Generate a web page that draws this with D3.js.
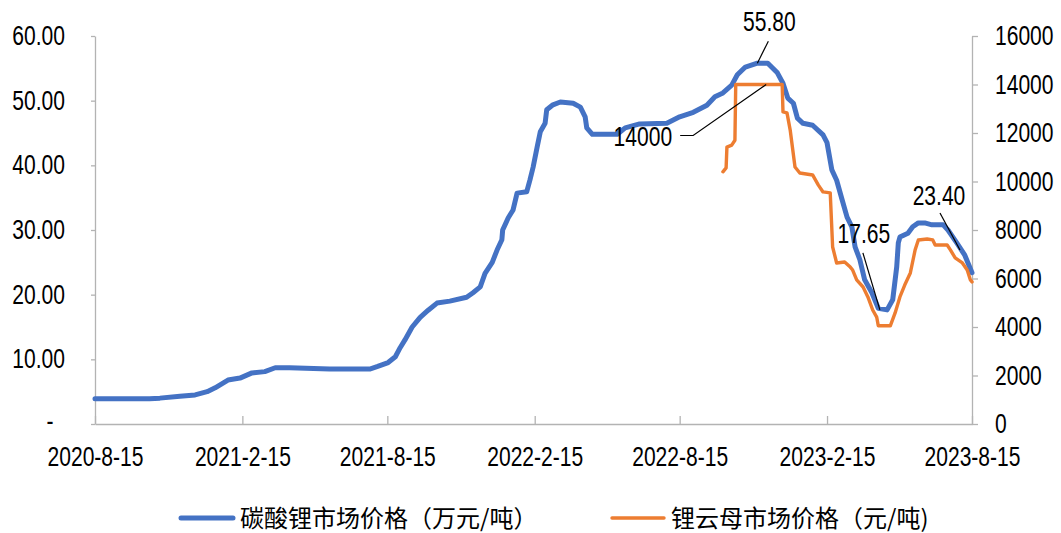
<!DOCTYPE html>
<html lang="zh">
<head>
<meta charset="UTF-8">
<title>碳酸锂与锂云母市场价格</title>
<script src="https://d3js.org/d3.v7.min.js"></script>
<style>
    body { margin: 0; background: #fff; }
    text { font-family: "Liberation Sans", Arial, sans-serif; fill: #000; }
    .cjk { font-family: "Noto Sans CJK SC", "Liberation Sans", sans-serif; }
</style>
</head>
<body>
<div id="chart"></div>
<script>
    // 碳酸锂市场价格（万元/吨）
    const blueDates = [
        "2020-08-15", "2020-10-22", "2020-11-04", "2020-11-29", "2020-12-18", "2021-01-02", "2021-01-12",
        "2021-01-28", "2021-02-12", "2021-02-27", "2021-03-15", "2021-03-28", "2021-04-15", "2021-06-04",
        "2021-07-24", "2021-08-03", "2021-08-16", "2021-08-25", "2021-08-31", "2021-09-06", "2021-09-15",
        "2021-09-25", "2021-10-05", "2021-10-16", "2021-11-01", "2021-11-22", "2021-11-30", "2021-12-09",
        "2021-12-15", "2021-12-24", "2021-12-30", "2022-01-05", "2022-01-06", "2022-01-13", "2022-01-19",
        "2022-01-24", "2022-02-05", "2022-02-09", "2022-02-13", "2022-02-18", "2022-02-22", "2022-02-28",
        "2022-03-02", "2022-03-09", "2022-03-19", "2022-04-04", "2022-04-13", "2022-04-19", "2022-04-21",
        "2022-04-28", "2022-05-29", "2022-06-08", "2022-06-26", "2022-07-30", "2022-08-15", "2022-09-01",
        "2022-09-18", "2022-09-28", "2022-10-08", "2022-10-19", "2022-10-26", "2022-11-05", "2022-11-20",
        "2022-12-03", "2022-12-15", "2022-12-22", "2022-12-28", "2023-01-04", "2023-01-09", "2023-01-16",
        "2023-01-28", "2023-02-10", "2023-02-15", "2023-02-21", "2023-02-27", "2023-03-06", "2023-03-12",
        "2023-03-18", "2023-03-22", "2023-03-28", "2023-04-03", "2023-04-12", "2023-04-20", "2023-05-01",
        "2023-05-08", "2023-05-13", "2023-05-15", "2023-05-17", "2023-05-27", "2023-06-02", "2023-06-09",
        "2023-06-17", "2023-06-26", "2023-07-10", "2023-07-16", "2023-07-27", "2023-08-06", "2023-08-15"
    ];
    const blueValues = [
        3.9, 3.9, 4.0, 4.3, 4.5, 5.0, 5.6,
        6.8, 7.1, 7.9, 8.1, 8.7, 8.7, 8.5,
        8.5, 8.9, 9.5, 10.4, 11.8, 13.0, 15.0,
        16.5, 17.6, 18.7, 19.0, 19.6, 20.3, 21.2,
        23.3, 25.0, 26.9, 28.5, 30.0, 31.9, 33.1,
        35.7, 35.9, 37.7, 39.7, 42.8, 45.2, 46.5,
        48.6, 49.3, 49.8, 49.6, 49.0, 47.5, 45.8,
        44.8, 44.8, 45.8, 46.4, 46.5, 47.5, 48.2,
        49.3, 50.6, 51.2, 52.4, 54.0, 55.2, 55.8,
        55.8, 54.3, 52.7, 50.4, 49.6, 47.3, 46.5,
        46.2, 44.7, 43.5, 39.3, 37.7, 34.6, 32.0,
        30.5, 27.4, 25.4, 22.3, 20.3, 17.9, 17.65,
        19.2, 24.3, 28.0, 28.9, 29.5, 30.5, 31.1,
        31.1, 30.8, 30.8, 30.0, 28.0, 26.1, 23.4
    ];

    // 锂云母市场价格（元/吨）
    const orangeDates = [
        "2022-10-08", "2022-10-12", "2022-10-13", "2022-10-19", "2022-10-23", "2022-10-24", "2022-12-21",
        "2022-12-22", "2022-12-27", "2022-12-31", "2023-01-06", "2023-01-12", "2023-01-28", "2023-02-04",
        "2023-02-10", "2023-02-19", "2023-02-22", "2023-02-27", "2023-03-09", "2023-03-16", "2023-03-19",
        "2023-03-24", "2023-04-01", "2023-04-07", "2023-04-13", "2023-04-18", "2023-04-20", "2023-05-05",
        "2023-05-11", "2023-05-17", "2023-05-23", "2023-05-30", "2023-06-05", "2023-06-09", "2023-06-20",
        "2023-06-27", "2023-06-30", "2023-07-15", "2023-07-19", "2023-07-25", "2023-08-03", "2023-08-09",
        "2023-08-13", "2023-08-15"
    ];
    const orangeValues = [
        10400, 10560, 11420, 11500, 11700, 14000, 14000,
        12870, 12830, 12120, 10600, 10350, 10270, 9860,
        9570, 9530, 7300, 6640, 6680, 6470, 6350,
        5940, 5650, 5240, 4700, 4410, 4050, 4050,
        4580, 5240, 5730, 6230, 7180, 7590, 7630,
        7590, 7380, 7380, 7180, 6850, 6640, 6350,
        5940, 5860
    ];

    const xTickDates = ["2020-08-15", "2021-02-15", "2021-08-15", "2022-02-15", "2022-08-15", "2023-02-15", "2023-08-15"];
    const xTickLabels = ["2020-8-15", "2021-2-15", "2021-8-15", "2022-2-15", "2022-8-15", "2023-2-15", "2023-8-15"];
    const leftTicks = [0, 10, 20, 30, 40, 50, 60];
    const rightTicks = [0, 2000, 4000, 6000, 8000, 10000, 12000, 14000, 16000];
    const seriesNames = ["碳酸锂市场价格（万元/吨）", "锂云母市场价格（元/吨)"];
    const seriesColors = ["#4472C4", "#ED7D31"];

    // annotations: [date, value, axis, label]
    const notes = [
        ["2022-11-20", 55.8, "left", "55.80"],
        ["2022-12-01", 14000, "right", "14000"],
        ["2023-04-22", 17.65, "left", "17.65"],
        ["2023-07-31", 26.9, "left", "23.40"]
    ];

    const W = 1061, H = 533;
    const plot = { left: 95, right: 972, top: 36, bottom: 424 };
    const SX = 0.78; // labels in the picture are horizontally squeezed
    const parse = d3.timeParse("%Y-%m-%d");

    const svg = d3.select("#chart").append("svg")
        .attr("width", W)
        .attr("height", H);

    const x = d3.scaleTime()
        .domain([parse(xTickDates[0]), parse(xTickDates[xTickDates.length - 1])])
        .range([plot.left, plot.right]);
    const yL = d3.scaleLinear().domain([0, 60]).range([plot.bottom, plot.top]);
    const yR = d3.scaleLinear().domain([0, 16000]).range([plot.bottom, plot.top]);

    function squeeze(sel, k) {
        sel.each(function () {
            const t = d3.select(this);
            const tx = +t.attr("x") || 0;
            t.attr("x", tx / k).attr("transform", `scale(${k},1)`);
        });
    }

    function styleAxis(g) {
        g.select(".domain").attr("stroke", "#b3b3b3").attr("stroke-width", 1.3);
        g.selectAll(".tick line").attr("stroke", "#b3b3b3").attr("stroke-width", 1.3);
        g.selectAll("text").attr("font-size", 27).attr("font-family", null).attr("fill", "#000");
    }

    // left axis
    const gL = svg.append("g")
        .attr("transform", `translate(${plot.left},0)`)
        .call(d3.axisLeft(yL).tickValues(leftTicks).tickSizeInner(4).tickSizeOuter(0).tickPadding(26)
            .tickFormat(d => d === 0 ? "-" : d3.format(".2f")(d)));
    styleAxis(gL);
    gL.selectAll(".tick").filter(d => d === 0).select("text")
        .attr("text-anchor", "middle").attr("x", -45).attr("dy", "0.2em");
    squeeze(gL.selectAll("text"), SX);

    // right axis
    const gR = svg.append("g")
        .attr("transform", `translate(${plot.right},0)`)
        .call(d3.axisRight(yR).tickValues(rightTicks).tickSizeInner(6).tickSizeOuter(0).tickPadding(17)
            .tickFormat(d3.format("d")));
    styleAxis(gR);
    squeeze(gR.selectAll("text"), SX);

    // bottom axis
    const gB = svg.append("g")
        .attr("transform", `translate(0,${plot.bottom})`)
        .call(d3.axisBottom(x).tickValues(xTickDates.map(parse)).tickSizeInner(-8).tickSizeOuter(0).tickPadding(23)
            .tickFormat((d, i) => xTickLabels[i]));
    styleAxis(gB);
    squeeze(gB.selectAll("text"), SX);

    // series
    const blue = blueDates.map((d, i) => ({ date: parse(d), value: blueValues[i] }));
    const orange = orangeDates.map((d, i) => ({ date: parse(d), value: orangeValues[i] }));

    svg.append("path")
        .datum(blue)
        .attr("fill", "none")
        .attr("stroke", seriesColors[0])
        .attr("stroke-width", 5)
        .attr("stroke-linejoin", "round")
        .attr("stroke-linecap", "round")
        .attr("d", d3.line().x(d => x(d.date)).y(d => yL(d.value)));

    svg.append("path")
        .datum(orange)
        .attr("fill", "none")
        .attr("stroke", seriesColors[1])
        .attr("stroke-width", 3.4)
        .attr("stroke-linejoin", "round")
        .attr("stroke-linecap", "round")
        .attr("d", d3.line().x(d => x(d.date)).y(d => yR(d.value)));

    // data labels with leader lines
    const leaders = [
        { dx: 11, dy: -22, tx: 12, ty: -32, anchor: "middle" },
        { dx: -73, dy: 51, hx: -13, tx: -94, ty: 62, anchor: "end" },
        { dx: -17, dy: -57, tx: -16, ty: -67, anchor: "middle" },
        { dx: -20, dy: -37, tx: -21, ty: -45, anchor: "middle" }
    ];
    notes.forEach((n, i) => {
        const px = x(parse(n[0]));
        const py = n[2] === "left" ? yL(n[1]) : yR(n[1]);
        const o = leaders[i];
        const pts = [[px, py], [px + o.dx, py + o.dy]];
        if (o.hx) pts.push([px + o.dx + o.hx, py + o.dy]);
        svg.append("path")
            .attr("fill", "none")
            .attr("stroke", "#000")
            .attr("stroke-width", 1.2)
            .attr("d", d3.line()(pts));
        const t = svg.append("text")
            .attr("x", px + o.tx)
            .attr("y", py + o.ty)
            .attr("text-anchor", o.anchor)
            .attr("font-size", 27)
            .text(n[3]);
        squeeze(t, SX);
    });

    // legend
    const legendX = [181, 612];
    const legendY = 518;
    seriesNames.forEach((name, i) => {
        svg.append("line")
            .attr("x1", legendX[i]).attr("x2", legendX[i] + 52)
            .attr("y1", legendY).attr("y2", legendY)
            .attr("stroke", seriesColors[i])
            .attr("stroke-width", i === 0 ? 5 : 3.4)
            .attr("stroke-linecap", "round");
        svg.append("text")
            .attr("class", "cjk")
            .attr("x", legendX[i] + 59)
            .attr("y", legendY + 9)
            .attr("font-size", 24)
            .text(name);
    });
</script>
</body>
</html>
